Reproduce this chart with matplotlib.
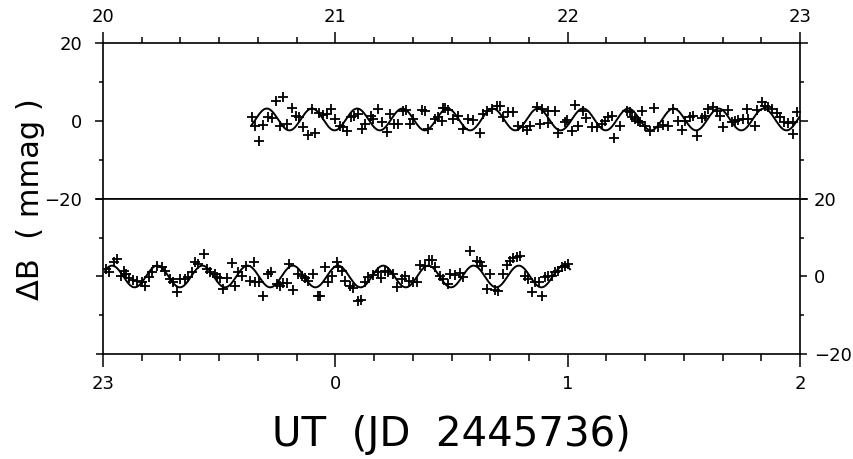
import numpy as np
import matplotlib.pyplot as plt
from matplotlib.ticker import MultipleLocator, FixedLocator

# B light curve, first night (UT hours)
t_top = [20.640, 20.654, 20.671, 20.690, 20.711, 20.726, 20.743, 20.776, 20.762, 20.791,
         20.812, 20.829, 20.844, 20.862, 20.881, 20.912, 20.898, 20.930, 20.948, 20.963,
         20.981, 20.999, 21.020, 21.034, 21.049, 21.067, 21.082, 21.099, 21.116, 21.128,
         21.153, 21.163, 21.182, 21.200, 21.221, 21.235, 21.254, 21.271, 21.292, 21.303,
         21.321, 21.336, 21.372, 21.386, 21.400, 21.429, 21.443, 21.465,
         21.458, 21.472, 21.486, 21.508, 21.529, 21.551, 21.572, 21.594, 21.623, 21.637,
         21.651, 21.673, 21.694, 21.709, 21.723, 21.744, 21.766, 21.787, 21.809, 21.826,
         21.838, 21.867, 21.888, 21.917, 21.945, 21.881, 21.917, 21.960, 21.988, 21.998,
         22.017, 22.031, 22.046, 22.067, 22.079, 22.103, 22.125, 22.146, 22.161, 22.175,
         22.189, 22.199, 22.225, 22.254, 22.268, 22.290, 22.304,
         22.276, 22.318, 22.311, 22.333, 22.354, 22.372, 22.390, 22.412, 22.433, 22.455,
         22.476, 22.491, 22.505, 22.526, 22.541, 22.555, 22.577, 22.591, 22.605, 22.627,
         22.644, 22.656, 22.670, 22.691, 22.706, 22.720, 22.734, 22.753, 22.770, 22.777,
         22.806, 22.813, 22.835, 22.849, 22.863, 22.878, 22.900, 22.914, 22.931, 22.950,
         22.968, 22.986, 22.971]
db_top = [0.94, -1.20, -5.17, -0.94, 0.94, 0.76, 5.17, 6.03, -1.20, -0.76,
          3.31, 1.20, 0.94, -1.45, -3.49, -3.13, 3.05, 2.04, 1.60, 1.78,
          3.05, 0.51, -1.20, -1.60, -2.47, 0.94, 1.35, 1.78, -2.04, -0.76,
          1.35, 0.51, 3.05, -0.33, -2.88, 1.78, -0.76, -0.76, 2.62, 2.80,
          -0.76, 0.51, 2.80, 2.62, -2.04, 0.51, 0.94, 3.31,
          0.08, 3.31, 2.80, 0.51, 1.35, -2.04, 0.51, 0.25, -3.13, 1.78,
          2.62, 3.05, 3.89, 3.89, 0.94, 2.21, 2.21, -1.20, -1.60, -2.29,
          -1.20, 3.49, 3.05, 2.62, 2.47, -0.76, -0.59, -3.13, -0.33, 0.25,
          -2.47, 4.15, -1.20, 2.62, 0.76, -1.60, -1.45, -0.76, 0.08, 1.09,
          1.35, -4.33, -1.20, 2.62, 2.21, 0.51, 0.08,
          0.94, 2.47, -0.33, -1.20, -2.47, 3.31, -1.45, -0.94, -1.20, 3.05,
          -0.08, -2.29, -0.08, 0.94, 1.35, -3.74, 0.76, 1.35, 3.05, 3.49,
          2.62, 1.35, -1.60, 2.80, -0.33, -0.08, 0.25, 0.51, 3.05, 0.51,
          -1.20, 2.80, 4.76, 3.89, 3.49, 3.05, 1.96, 0.94, -0.33, -0.59,
          -0.33, 2.21, -3.31]

# second night, hours counted past 24 (tick labels wrap)
t_bot = [23.013, 23.027, 23.047, 23.059, 23.076, 23.090, 23.099, 23.113, 23.130, 23.145,
         23.167, 23.181, 23.199, 23.210, 23.231, 23.253, 23.267, 23.288, 23.303, 23.317,
         23.331, 23.353, 23.367, 23.382, 23.396, 23.410, 23.435, 23.446, 23.461, 23.482,
         23.492, 23.504, 23.518, 23.532, 23.554, 23.568, 23.582, 23.597, 23.614, 23.633,
         23.650, 23.654, 23.673, 23.687, 23.711, 23.722, 23.748, 23.762, 23.773, 23.791,
         23.802, 23.819, 23.841, 23.855, 23.869, 23.884, 23.905, 23.927, 23.934, 23.955,
         23.970, 23.984, 24.006,
         24.013, 24.027, 24.042, 24.063, 24.077, 24.096, 24.110, 24.128, 24.142, 24.163,
         24.182, 24.197, 24.214, 24.228, 24.249, 24.264, 24.286, 24.300, 24.317, 24.336,
         24.350, 24.364, 24.386, 24.403, 24.415, 24.429, 24.450, 24.465, 24.486, 24.493,
         24.515, 24.537, 24.551, 24.580, 24.608, 24.623, 24.630, 24.651, 24.666,
         24.687, 24.701, 24.723, 24.738, 24.752, 24.766, 24.781, 24.795, 24.816,
         24.830, 24.845, 24.859, 24.877, 24.888, 24.902, 24.917, 24.934, 24.945, 24.960,
         24.974, 24.988, 25.003]
db_bot = [1.93, 1.08, 3.66, 4.51, 0.21, 1.49, 0.64, -0.46, -0.82, -1.08,
          -1.34, -2.37, -0.21, 1.08, 2.78, 2.37, 1.49, -0.64, -1.34, -3.92,
          -0.64, -0.64, -0.21, 1.08, 3.66, 3.22, 5.80, 1.93, 1.08, 0.64,
          -0.21, -0.46, -3.22, -0.46, 3.48, -2.37, 1.08, 0.05, 2.78, -1.08,
          3.66, -1.34, -1.34, -5.10, 0.64, 1.08, -1.93, -2.37, -1.68, -1.68,
          3.22, -3.40, 0.64, 0.21, -0.46, -1.08, 0.64, -5.10, -4.95, 2.37,
          -1.34, 0.21, 3.66,
          2.37, 1.49, -1.08, -2.37, -3.04, -6.24, -5.98, -1.49, -0.21, 0.39,
          1.08, -0.46, 1.49, 1.08, 0.64, -2.78, -0.64, 0.21, -1.08, -1.34,
          -1.49, 2.96, 2.78, 4.33, 4.33, 2.37, 0.21, -0.64, -1.93, 0.64,
          0.39, 0.90, -0.21, 6.65, 4.07, 3.66, 2.63, -3.22, 0.64,
          -3.40, -3.66, 0.64, 2.96, 4.07, 4.69, 4.95, 5.21, 0.05,
          -0.64, -3.92, -1.34, -1.49, -5.10, -0.21, 0.05, 0.05, 1.08, 1.49,
          2.37, 2.78, 3.22]

# fitted sinusoid
period = 0.1945      # h
t_max = 20.705       # UT of a maximum
amp = 2.8            # mmag
zero_top = 0.4
zero_bot = 0.0
fit_top = (20.64, 23.0)
fit_bot = (23.01, 25.01)


def fit_curve(t0, t1, zero):
    t = np.linspace(t0, t1, 800)
    return t, zero + amp * np.cos(2 * np.pi * (t - t_max) / period)


fig = plt.figure(figsize=(8.54, 4.59), dpi=100)
ax1 = fig.add_axes([0.1206, 0.5664, 0.8162, 0.3399])
ax2 = fig.add_axes([0.1206, 0.2288, 0.8162, 0.3377])

ax1.plot(t_top, db_top, '+', color='black', ms=7, mew=1.3)
ax1.plot(*fit_curve(*fit_top, zero_top), color='black', lw=1.4)
ax2.plot(t_bot, db_bot, '+', color='black', ms=7, mew=1.3)
ax2.plot(*fit_curve(*fit_bot, zero_bot), color='black', lw=1.4)

for ax in (ax1, ax2):
    ax.set_ylim(-20, 20)
    ax.yaxis.set_major_locator(FixedLocator([-20, 0, 20]))
    ax.yaxis.set_minor_locator(FixedLocator([-10, 10]))
    ax.xaxis.set_major_locator(MultipleLocator(1))
    ax.xaxis.set_minor_locator(MultipleLocator(1 / 6))
    for s in ax.spines.values():
        s.set_linewidth(1.2)
    ax.tick_params(which='both', direction='out', width=1.1, labelsize=13)

ax1.set_xlim(20, 23)
ax1.xaxis.tick_top()
ax1.tick_params(axis='x', which='major', length=8, pad=4)
ax1.tick_params(axis='x', which='minor', length=4)
ax1.tick_params(axis='y', which='both', left=True, right=True, labelleft=True, labelright=False)
ax1.tick_params(axis='y', which='major', length=6, pad=9)
ax1.tick_params(axis='y', which='minor', length=3)

ax2.set_xlim(23, 26)
ax2.set_xticks([23, 24, 25, 26])
ax2.set_xticklabels(['23', '0', '1', '2'])
ax2.tick_params(axis='x', which='major', length=9, pad=6)
ax2.tick_params(axis='x', which='minor', length=5)
ax2.yaxis.tick_right()
ax2.tick_params(axis='y', which='both', left=True, right=True, labelleft=False, labelright=True)
ax2.tick_params(axis='y', which='major', length=5, pad=5)
ax2.tick_params(axis='y', which='minor', length=3)

fig.text(0.036, 0.566, 'ΔB  ( mmag )', rotation=90, ha='center', va='center', fontsize=22)
fig.text(0.528, 0.052, 'UT  (JD  2445736)', ha='center', va='center', fontsize=29)

fig.savefig('out.png', dpi=100)
